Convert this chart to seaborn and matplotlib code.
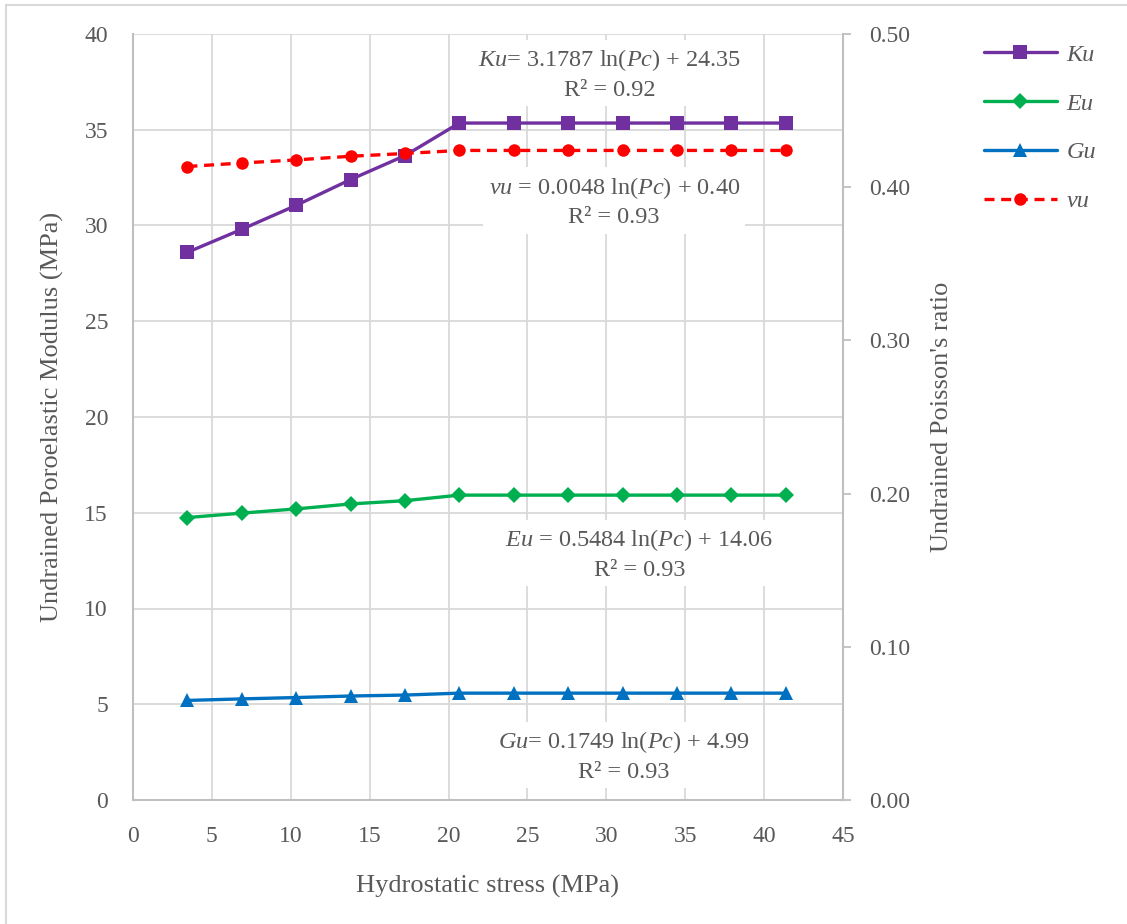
import matplotlib
matplotlib.use("Agg")
import matplotlib.pyplot as plt
import seaborn as sns
import pandas as pd
from matplotlib.patches import Rectangle
from matplotlib.lines import Line2D

# ---- data ----
stress = [3.45, 6.89, 10.34, 13.79, 17.24, 20.68, 24.13, 27.58, 31.03, 34.47, 37.92, 41.37]
ku = [28.6, 29.8, 31.05, 32.4, 33.65, 35.35, 35.35, 35.35, 35.35, 35.35, 35.35, 35.35]
eu = [14.75, 14.98, 15.2, 15.46, 15.63, 15.92, 15.92, 15.92, 15.92, 15.92, 15.92, 15.92]
gu = [5.2, 5.28, 5.35, 5.43, 5.48, 5.58, 5.58, 5.58, 5.58, 5.58, 5.58, 5.58]
vu = [0.4135, 0.4158, 0.4178, 0.4202, 0.4220, 0.4240, 0.4240, 0.4240, 0.4240, 0.4240, 0.4240, 0.4240]
series_names = ["Ku", "Eu", "Gu", "vu"]
x_ticks = list(range(0, 50, 5))
y_ticks = list(range(0, 45, 5))
y2_ticks = [0.0, 0.1, 0.2, 0.3, 0.4, 0.5]

sns.set_theme(style="white")
plt.rcParams['font.family'] = ['Liberation Serif', 'DejaVu Serif']
plt.rcParams['mathtext.fontset'] = 'custom'
plt.rcParams['mathtext.rm'] = 'Liberation Serif'
plt.rcParams['mathtext.it'] = 'Liberation Serif:italic'

GRID = '#D9D9D9'
SPINE = '#BFBFBF'
TXT = '#595959'

fig = plt.figure(figsize=(11.27, 9.24), dpi=100)
W, H = 1127, 924
ax = fig.add_axes([133 / W, 1 - 800 / H, (843 - 133) / W, (800 - 34) / H])
ax2 = ax.twinx()

df = pd.DataFrame({"x": stress, "Ku": ku, "Eu": eu, "Gu": gu, "vu": vu})

colors = {"Ku": "#7030A0", "Eu": "#00B050", "Gu": "#0070C0", "vu": "#FF0000"}
markers = {"Ku": "s", "Eu": "D", "Gu": "^", "vu": "o"}
msizes = {"Ku": 10, "Eu": 8, "Gu": 10, "vu": 9}

for name in ["Ku", "Eu", "Gu"]:
    sns.lineplot(data=df, x="x", y=name, ax=ax, color=colors[name], marker=markers[name],
                 markersize=msizes[name], markeredgewidth=0, linewidth=2.4, zorder=4)
sns.lineplot(data=df, x="x", y="vu", ax=ax2, color=colors["vu"], marker="o",
             markersize=msizes["vu"], markeredgewidth=0, linewidth=2.4, linestyle=(0, (3, 2)),
             zorder=4)

ax.set_xlim(0, 45)
ax.set_ylim(0, 40)
ax2.set_ylim(0, 0.5)
ax.set_xticks(x_ticks)
ax.set_yticks(y_ticks)
ax2.set_yticks(y2_ticks)
ax2.set_yticklabels([f"{v:.2f}" for v in y2_ticks])

ax.grid(True, color=GRID, linewidth=1.3)
ax.set_axisbelow(True)
ax2.grid(False)

for a in (ax, ax2):
    for s in a.spines.values():
        s.set_visible(False)
ax.spines['left'].set_visible(True)
ax.spines['bottom'].set_visible(True)
ax2.spines['right'].set_visible(True)
for s in (ax.spines['left'], ax.spines['bottom'], ax2.spines['right']):
    s.set_color(SPINE)
    s.set_linewidth(1.5)

ax.tick_params(axis='y', length=0, labelsize=17, labelcolor=TXT, pad=18)
ax.tick_params(axis='x', length=0, labelsize=17, labelcolor=TXT, pad=19)
ax2.tick_params(axis='y', length=6, width=1.3, color=SPINE, direction='out',
                labelsize=17, labelcolor=TXT, pad=13)

ax.set_xlabel("Hydrostatic stress (MPa)", fontsize=19, color=TXT, labelpad=20)
ax.set_ylabel("Undrained Poroelastic Modulus (MPa)", fontsize=19, color=TXT, labelpad=15)
ax2.set_ylabel("Undrained Poisson's ratio", fontsize=19, color=TXT, labelpad=15)

bbox = dict(facecolor='white', edgecolor='none', pad=4)
fs_ann = 17.5
ax.text(30.2, 37.9, "$\\mathit{Ku}$= 3.1787 ln($\\mathit{Pc}$) + 24.35\nR² = 0.92",
        ha='center', va='center', fontsize=fs_ann, color=TXT, linespacing=1.4, bbox=bbox, zorder=3)
ax.text(30.5, 31.25, "$\\mathit{vu}$ = 0.0048 ln($\\mathit{Pc}$) + 0.40\nR² = 0.93",
        ha='center', va='center', fontsize=fs_ann, color=TXT, linespacing=1.4, bbox=bbox, zorder=3)
ax.text(32.1, 12.85, "$\\mathit{Eu}$ = 0.5484 ln($\\mathit{Pc}$) + 14.06\nR² = 0.93",
        ha='center', va='center', fontsize=fs_ann, color=TXT, linespacing=1.4, bbox=bbox, zorder=3)
ax.text(31.1, 2.3, "$\\mathit{Gu}$= 0.1749 ln($\\mathit{Pc}$) + 4.99\nR² = 0.93",
        ha='center', va='center', fontsize=fs_ann, color=TXT, linespacing=1.4, bbox=bbox, zorder=3)

handles = []
for name in series_names:
    ls = (0, (3, 2)) if name == "vu" else '-'
    handles.append(Line2D([0], [0], color=colors[name], marker=markers[name],
                          markersize=msizes[name], markeredgewidth=0, linewidth=2.4, linestyle=ls))
leg = fig.legend(handles, series_names, loc='upper left', bbox_to_anchor=(962 / W, 1 - 22 / H),
                 frameon=False, fontsize=17.5, handlelength=3.0, labelspacing=1.1,
                 handletextpad=0.4)
for t in leg.get_texts():
    t.set_color(TXT)
    t.set_fontstyle('italic')

fig.patches.append(Rectangle((6 / W, -0.01), 1.05, 1 - 5 / H + 0.01, transform=fig.transFigure,
                             fill=False, edgecolor=GRID, linewidth=1.5))

fig.savefig("out.png", dpi=100, facecolor='white')
